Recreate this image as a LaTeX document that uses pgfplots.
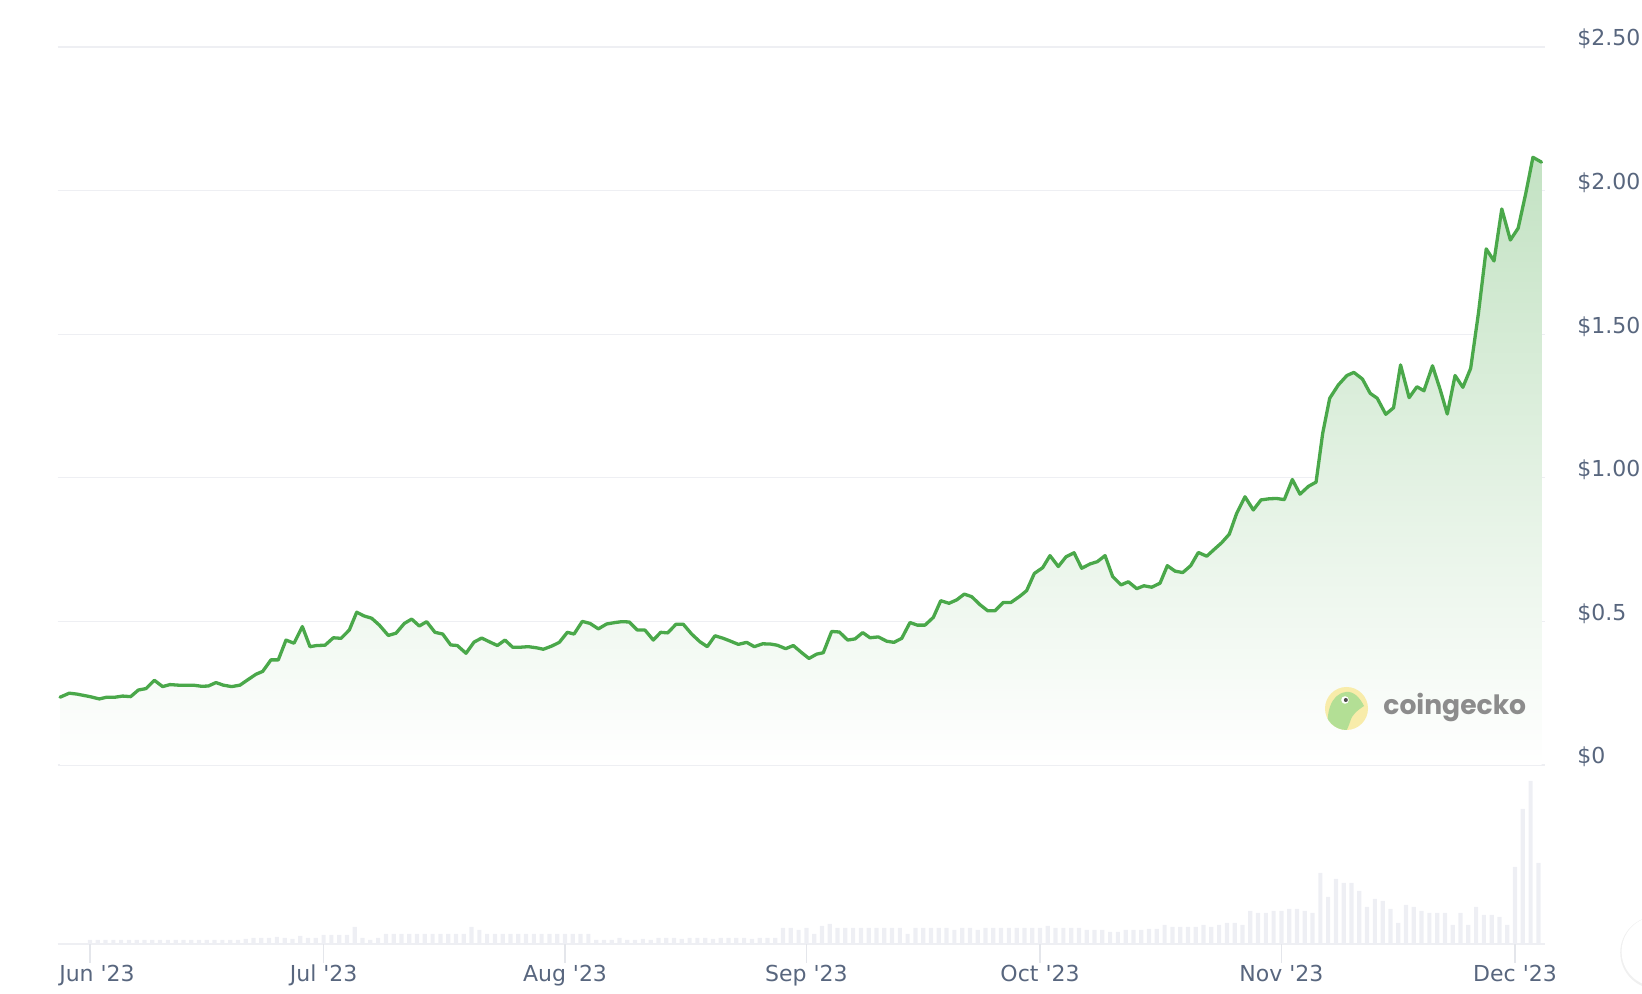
\documentclass[border=0pt]{standalone}
\usepackage{fontspec}
\setmainfont{DejaVu Sans}
\newfontfamily\popfont{Poppins}
\usepackage{pgfplots}
\usepackage{pgfplotstable}
\pgfplotsset{compat=1.18}
\definecolor{linegreen}{HTML}{4AA84A}
\definecolor{gridgray}{HTML}{EEEFF3}
\definecolor{volgray}{HTML}{EEEFF4}
\definecolor{labelcol}{HTML}{58667E}
\definecolor{tickgray}{HTML}{E4E6EB}
\definecolor{geckoyellow}{HTML}{F8ECAA}
\definecolor{geckogreen}{HTML}{B3DF95}
\definecolor{wmgray}{HTML}{8C8C8C}

\pgfplotstableread{
d p
-3.85 0.236
-2.66 0.250
-1.71 0.247
0.00 0.238
1.20 0.230
2.14 0.236
3.21 0.236
4.19 0.240
5.22 0.238
6.21 0.261
7.19 0.266
8.26 0.295
9.33 0.273
10.27 0.280
11.34 0.278
13.27 0.278
14.34 0.274
15.20 0.275
16.18 0.287
17.12 0.278
18.19 0.273
19.26 0.278
20.33 0.298
21.32 0.316
22.18 0.326
23.24 0.366
24.18 0.366
25.17 0.435
26.20 0.424
27.27 0.482
28.25 0.412
29.11 0.416
30.18 0.417
31.25 0.443
32.24 0.441
33.30 0.470
34.25 0.532
35.19 0.519
36.17 0.511
37.16 0.487
38.31 0.451
39.30 0.459
40.37 0.493
41.31 0.508
42.29 0.484
43.23 0.499
44.30 0.462
45.29 0.456
46.32 0.418
47.17 0.416
48.29 0.389
49.32 0.428
50.30 0.442
51.37 0.428
52.31 0.416
53.29 0.435
54.28 0.410
55.22 0.410
56.29 0.412
57.36 0.408
58.21 0.403
59.29 0.414
60.27 0.427
61.30 0.462
62.16 0.456
63.22 0.500
64.21 0.493
65.28 0.474
66.35 0.491
67.42 0.496
68.27 0.499
69.25 0.498
70.28 0.470
71.26 0.470
72.34 0.435
73.29 0.462
74.19 0.460
75.25 0.490
76.19 0.490
77.26 0.456
78.33 0.429
79.27 0.412
80.26 0.450
81.33 0.441
82.27 0.431
83.26 0.420
84.33 0.427
85.31 0.412
86.38 0.422
87.41 0.421
88.26 0.417
89.34 0.405
90.32 0.416
91.40 0.391
92.33 0.371
93.32 0.386
94.17 0.391
95.24 0.465
96.23 0.463
97.30 0.435
98.24 0.439
99.23 0.461
100.17 0.443
101.24 0.446
102.31 0.431
103.24 0.427
104.24 0.441
105.30 0.496
106.24 0.487
107.23 0.487
108.30 0.514
109.25 0.572
110.31 0.563
111.30 0.575
112.28 0.595
113.23 0.586
114.30 0.558
115.28 0.537
116.22 0.537
117.29 0.566
118.27 0.566
119.43 0.588
120.28 0.607
121.27 0.667
122.34 0.687
123.28 0.729
124.35 0.691
125.34 0.725
126.37 0.739
127.35 0.685
128.42 0.700
129.36 0.708
130.35 0.729
131.33 0.656
132.40 0.627
133.34 0.638
134.42 0.614
135.35 0.624
136.34 0.619
137.41 0.633
138.35 0.694
139.34 0.675
140.33 0.670
141.35 0.694
142.33 0.740
143.41 0.727
144.38 0.751
145.33 0.774
146.31 0.804
147.25 0.876
148.32 0.934
149.39 0.888
150.38 0.923
151.45 0.927
152.39 0.928
153.37 0.924
154.40 0.994
155.39 0.943
156.46 0.970
157.45 0.985
158.30 1.155
159.20 1.277
160.30 1.323
161.40 1.356
162.30 1.367
163.40 1.344
164.40 1.294
165.30 1.277
166.40 1.221
167.40 1.244
168.30 1.393
169.40 1.279
170.40 1.317
171.30 1.303
172.40 1.390
173.40 1.306
174.30 1.222
175.30 1.356
176.30 1.315
177.30 1.381
178.30 1.573
179.30 1.797
180.30 1.755
181.30 1.936
182.40 1.828
183.40 1.869
184.40 1.993
185.30 2.116
186.40 2.099
}\pricedata

\pgfplotstableread{
d v
0 4
1 4
2 4
3 4
4 4
5 4
6 4
7 4
8 4
9 4
10 4
11 4
12 4
13 4
14 4
15 4
16 4
17 4
18 4
19 4
20 5
21 6
22 6
23 6
24 7
25 6
26 5
27 8
28 6
29 6
30 9
31 9
32 9
33 9
34 17
35 6
36 4
37 6
38 10
39 10
40 10
41 10
42 10
43 10
44 10
45 10
46 10
47 10
48 10
49 17
50 14
51 10
52 10
53 10
54 10
55 10
56 10
57 10
58 10
59 10
60 10
61 10
62 10
63 10
64 10
65 4
66 4
67 4
68 6
69 4
70 4
71 5
72 4
73 6
74 6
75 6
76 5
77 6
78 6
79 6
80 5
81 6
82 6
83 6
84 6
85 5
86 6
87 6
88 6
89 16
90 16
91 14
92 16
93 10
94 18
95 20
96 16
97 16
98 16
99 16
100 16
101 16
102 16
103 16
104 16
105 10
106 16
107 16
108 16
109 16
110 16
111 14
112 16
113 16
114 14
115 16
116 16
117 16
118 16
119 16
120 16
121 16
122 16
123 18
124 16
125 16
126 16
127 16
128 14
129 14
130 14
131 12
132 12
133 14
134 14
135 14
136 15
137 15
138 19
139 17
140 17
141 17
142 17
143 19
144 17
145 19
146 21
147 21
148 19
149 33
150 31
151 31
152 33
153 33
154 35
155 35
156 33
157 31
158 71
159 47
160 65
161 61
162 61
163 53
164 37
165 45
166 43
167 35
168 21
169 39
170 37
171 33
172 31
173 31
174 31
175 19
176 31
177 19
178 37
179 29
180 29
181 27
182 19
183 77
184 135
185 163
186 81
}\voldata

\begin{document}
\begin{tikzpicture}
\path[use as bounding box] (0pt,0pt) rectangle (821pt,497pt);

% volume panel
\begin{axis}[
  scale only axis, anchor=south west, at={(28.8pt,25pt)},
  width=743.7pt, height=85pt,
  xmin=-4.16, xmax=186.85, ymin=0, ymax=170,
  axis line style={draw=none},
  xtick={0,30,61,92,122,153,183},
  xticklabels={\hspace*{7pt}Jun \textquotesingle23, Jul \textquotesingle23, Aug \textquotesingle23, Sep \textquotesingle23, Oct \textquotesingle23, Nov \textquotesingle23, Dec \textquotesingle23},
  xtick pos=bottom,
  xtick style={draw=tickgray, line width=0.7pt},
  major tick length=9.5pt, tick align=outside,
  xticklabel style={anchor=base, inner sep=0pt, yshift=-9.5pt, font=\fontsize{11}{13}\selectfont, text=labelcol},
  ytick={0}, yticklabels={}, ytick style={draw=none},
  ymajorgrids, grid style={gridgray, line width=1pt},
]
\addplot[ybar, bar width=2.1pt, fill=volgray, draw=none] table[x=d, y=v] {\voldata};
\end{axis}

% price panel
\begin{axis}[
  scale only axis, anchor=south west, at={(28.8pt,114.5pt)},
  width=743.7pt, height=359pt,
  xmin=-4.16, xmax=186.85, ymin=0, ymax=2.5,
  xtick=\empty,
  ytick={0,0.5,1,1.5,2,2.5},
  yticklabels={\$0,\$0.5,\$1.00,\$1.50,\$2.00,\$2.50},
  yticklabel pos=right,
  ymajorgrids, grid style={gridgray, line width=0.6pt},
  axis line style={draw=none}, major tick length=0pt,
  yticklabel style={anchor=base west, inner sep=0pt, xshift=16pt, yshift=0.5pt, font=\fontsize{11}{13}\selectfont, text=labelcol},
]
\addplot[draw=none, top color=linegreen!33!white, bottom color=white, forget plot] table[x=d, y=p] {\pricedata} \closedcycle;
\addplot[linegreen, line width=1.65pt, line join=round, line cap=round] table[x=d, y=p] {\pricedata};
\end{axis}

% watermark
\fill[geckoyellow] (673.25pt,142.75pt) circle (10.75pt);
\begin{scope}
\clip (673.25pt,142.75pt) circle (10.75pt);
\fill[geckogreen] (664pt,131pt) .. controls (663pt,140pt) and (665pt,150pt) .. (673pt,151pt)
  .. controls (677pt,151.5pt) and (680pt,148pt) .. (682pt,144pt)
  .. controls (679pt,142pt) and (676pt,140pt) .. (675pt,136pt)
  .. controls (674pt,133pt) and (673pt,131pt) .. (672pt,130pt) -- cycle;
\fill[white] (672.5pt,147pt) circle (1.9pt);
\fill[black!70] (672.9pt,147pt) circle (1pt);
\end{scope}
\node[anchor=west, inner sep=0pt, text=wmgray] at (691.5pt,143pt) {\popfont\bfseries\fontsize{13.3}{16}\selectfont coingecko};

% scroll button at right edge
\fill[black!6] (828.3pt,20.7pt) circle (18.2pt);
\fill[white] (828.3pt,21.2pt) circle (17.5pt);
\end{tikzpicture}
\end{document}
